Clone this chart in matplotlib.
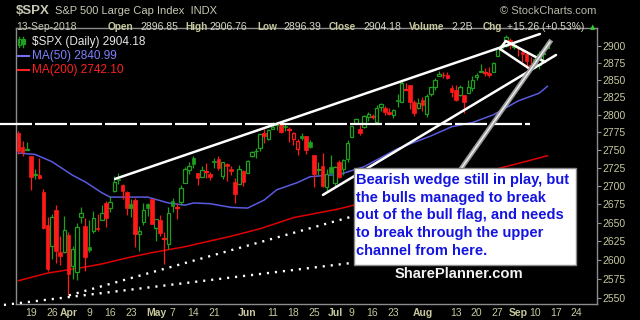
import numpy as np
import pandas as pd
import matplotlib
matplotlib.use("Agg")
import matplotlib.pyplot as plt
from matplotlib.patches import Rectangle
from matplotlib.lines import Line2D

plt.rcParams['font.family'] = ['Liberation Sans', 'DejaVu Sans']

# trading days, 14-Mar-2018 .. end of Sep (candles stop on 13-Sep)
holidays = pd.to_datetime(["2018-03-30", "2018-05-28", "2018-07-04", "2018-09-03"])
days = pd.bdate_range("2018-03-14", "2018-09-28")
days = days[~days.isin(holidays)]

prev_close = 2765.31
opens = [2774.06, 2754.27, 2750.57, 2741.38, 2715.05, 2714.99, 2691.36, 2646.71, 2619.35, 2667.57, 2611.30, 2610.79,
         2633.45, 2592.17, 2584.04, 2657.36, 2645.82, 2617.18, 2638.41, 2643.69, 2653.83, 2676.90,
         2670.10, 2692.74, 2710.11, 2701.16, 2692.56, 2675.40, 2680.80, 2634.92, 2651.65, 2675.47,
         2682.51, 2642.96, 2654.24, 2628.08, 2621.45, 2680.34, 2670.26, 2678.12, 2705.02, 2722.70,
         2738.47, 2718.59, 2712.62, 2719.71, 2717.35, 2735.39, 2738.34, 2713.98, 2730.94, 2723.60,
         2705.11, 2702.43, 2720.98, 2718.70, 2741.67, 2748.46, 2753.25, 2774.84, 2765.84,
         2780.18, 2785.60, 2787.94, 2783.21, 2777.78, 2765.79, 2752.01, 2769.73, 2769.28, 2760.79,
         2742.94, 2722.12, 2728.45, 2698.69, 2727.13, 2704.95, 2733.27, 2724.19, 2737.68,
         2768.51, 2788.56, 2779.82, 2783.14, 2796.93, 2797.36, 2789.34, 2811.35, 2809.37, 2804.55,
         2799.17, 2820.68, 2817.73, 2835.49, 2842.35, 2819.00, 2809.73, 2821.17, 2800.48, 2829.62,
         2840.29, 2855.92, 2856.79, 2857.19, 2838.90, 2835.46, 2827.88, 2827.95, 2831.44, 2838.32,
         2853.93, 2861.51, 2860.99, 2860.29, 2862.35, 2884.69, 2901.45, 2900.62, 2908.94, 2898.37,
         2896.96, 2891.59, 2888.64, 2868.26, 2881.39, 2871.57, 2888.29, 2896.85]
highs = [2777.11, 2763.03, 2761.85, 2741.38, 2724.22, 2739.14, 2695.68, 2657.67, 2661.36, 2674.78, 2632.65, 2659.07,
         2638.30, 2619.14, 2649.86, 2672.08, 2656.88, 2653.55, 2665.45, 2661.43, 2674.72, 2680.26,
         2686.49, 2713.34, 2717.49, 2702.84, 2693.94, 2682.86, 2683.55, 2645.30, 2676.48, 2677.35,
         2682.87, 2655.27, 2660.87, 2637.14, 2670.93, 2683.35, 2676.34, 2701.27, 2726.11, 2732.86,
         2742.10, 2718.59, 2727.76, 2731.96, 2719.50, 2739.19, 2742.24, 2733.33, 2731.97, 2727.36,
         2710.67, 2729.34, 2722.50, 2736.93, 2749.16, 2752.61, 2772.39, 2779.90, 2779.39,
         2790.21, 2789.80, 2791.47, 2789.06, 2782.81, 2774.99, 2765.05, 2774.86, 2769.28, 2764.17,
         2742.94, 2732.91, 2746.09, 2724.34, 2743.26, 2727.26, 2736.58, 2737.83, 2764.41,
         2784.65, 2795.58, 2785.91, 2799.22, 2804.53, 2801.19, 2814.19, 2816.76, 2812.05, 2809.70,
         2808.61, 2829.99, 2848.03, 2845.57, 2843.17, 2821.74, 2824.46, 2825.83, 2829.91, 2840.38,
         2853.29, 2863.43, 2862.44, 2862.48, 2842.20, 2843.40, 2843.11, 2827.95, 2850.49, 2855.63,
         2859.76, 2873.23, 2867.54, 2868.78, 2876.16, 2898.25, 2903.77, 2916.50, 2912.46, 2906.32,
         2900.18, 2894.21, 2892.05, 2883.81, 2886.93, 2892.52, 2894.65, 2906.76]
lows = [2744.38, 2741.47, 2749.97, 2694.59, 2710.05, 2709.79, 2641.59, 2585.89, 2601.81, 2596.12, 2593.06, 2609.72,
        2553.80, 2575.49, 2573.61, 2649.58, 2586.27, 2610.79, 2635.78, 2639.25, 2653.83, 2645.05,
        2665.16, 2692.05, 2703.63, 2681.90, 2660.61, 2657.99, 2617.32, 2612.67, 2647.16, 2659.01,
        2648.04, 2625.41, 2631.70, 2594.62, 2615.32, 2664.70, 2655.20, 2674.14, 2704.54, 2717.45,
        2725.47, 2701.91, 2712.17, 2711.36, 2709.18, 2725.70, 2721.88, 2709.54, 2707.38, 2714.99,
        2676.81, 2702.43, 2700.68, 2718.70, 2740.54, 2739.51, 2748.46, 2760.16, 2763.59,
        2780.17, 2778.78, 2774.65, 2776.52, 2761.73, 2757.12, 2743.19, 2763.91, 2744.39, 2752.68,
        2698.67, 2715.60, 2699.38, 2691.99, 2718.03, 2698.95, 2711.16, 2716.02, 2733.52,
        2768.51, 2786.24, 2770.77, 2781.53, 2791.69, 2793.39, 2789.24, 2805.89, 2799.77, 2800.01,
        2795.14, 2811.12, 2817.73, 2835.26, 2808.34, 2798.11, 2808.06, 2805.85, 2796.34, 2827.37,
        2835.98, 2855.92, 2853.09, 2851.98, 2825.81, 2819.88, 2826.58, 2802.49, 2831.44, 2833.73,
        2850.62, 2861.32, 2856.05, 2854.03, 2862.35, 2884.69, 2893.50, 2898.40, 2895.22, 2895.77,
        2885.13, 2876.92, 2867.29, 2864.12, 2875.94, 2866.78, 2879.20, 2896.39]
closes = [2749.48, 2747.33, 2752.01, 2712.92, 2716.94, 2711.93, 2643.69, 2588.26, 2658.55, 2612.62, 2605.00, 2640.87,
          2581.88, 2614.45, 2644.69, 2662.84, 2604.47, 2613.16, 2656.87, 2642.19, 2663.99, 2656.30,
          2677.84, 2706.39, 2708.64, 2693.13, 2670.14, 2670.29, 2634.56, 2639.40, 2666.94, 2669.91,
          2648.05, 2654.80, 2635.67, 2629.73, 2663.42, 2672.63, 2671.92, 2697.79, 2723.07, 2727.72,
          2730.13, 2711.45, 2722.46, 2720.13, 2712.97, 2733.01, 2724.44, 2733.29, 2727.76, 2721.33,
          2689.86, 2724.01, 2705.27, 2734.62, 2746.87, 2748.80, 2772.35, 2770.37, 2779.03,
          2782.00, 2786.85, 2775.63, 2782.49, 2779.66, 2773.75, 2762.59, 2767.32, 2749.76, 2754.88,
          2717.07, 2723.06, 2699.63, 2716.31, 2718.37, 2726.71, 2713.22, 2736.61, 2759.82,
          2784.17, 2793.84, 2774.02, 2798.29, 2801.31, 2798.43, 2809.55, 2815.62, 2804.49, 2801.83,
          2806.98, 2820.40, 2846.07, 2837.44, 2818.82, 2802.60, 2816.29, 2813.36, 2827.22, 2840.35,
          2850.40, 2858.45, 2857.70, 2853.58, 2833.28, 2821.93, 2839.96, 2818.37, 2840.69, 2850.13,
          2857.05, 2862.96, 2861.82, 2856.98, 2874.69, 2896.74, 2897.52, 2914.04, 2901.13, 2901.52,
          2896.72, 2888.60, 2878.05, 2871.68, 2877.13, 2887.89, 2888.92, 2904.18]

# moving averages: (trading day number, value)
ma50_day = [0, 4, 8, 13, 16, 20, 22, 25, 31, 36, 40, 42, 46, 51, 55, 59, 62, 67, 70, 74, 77, 83, 91, 99, 104, 109, 114, 120, 125, 127]
ma50_val = [2746, 2744, 2734, 2715, 2706, 2691, 2685, 2685, 2685, 2677, 2674, 2677, 2676, 2671, 2670, 2681, 2695, 2705,
            2713, 2715, 2716, 2727, 2752, 2770, 2783, 2789, 2800, 2820, 2831, 2840.99]
ma200_day = [0, 7, 15, 20, 26, 32, 40, 51, 58, 66, 77, 117, 127]
ma200_val = [2573, 2583, 2590, 2595, 2603, 2610, 2618, 2632, 2642, 2657, 2669, 2727, 2742.10]

tick_dates = ["2018-03-19", "2018-03-26", "2018-04-02", "2018-04-09", "2018-04-16", "2018-04-23",
              "2018-05-01", "2018-05-07", "2018-05-14", "2018-05-21", "2018-06-01", "2018-06-11",
              "2018-06-18", "2018-06-25", "2018-07-02", "2018-07-09", "2018-07-16", "2018-07-23",
              "2018-08-01", "2018-08-13", "2018-08-20", "2018-08-27", "2018-09-04", "2018-09-10",
              "2018-09-17", "2018-09-24"]
tick_text = ["19", "26", "Apr", "9", "16", "23", "May", "7", "14", "21", "Jun", "11", "18", "25",
             "Jul", "9", "16", "23", "Aug", "13", "20", "27", "Sep", "10", "17", "24"]
months = ["Apr", "May", "Jun", "Jul", "Aug", "Sep"]
y_ticks = list(range(2550, 2901, 25))

# hand drawn lines on the chart, (trading day number, price)
upper_channel = [(23.2, 2710.0), (125.2, 2917.8)]
lower_channel = [(73.1, 2688.0), (129.05, 2886.7)]
resistance = [(-4.44, 2787.5), (122.8, 2787.5)]
flag_top = [(117.0, 2907.4), (126.4, 2876.5)]
flag_bottom = [(115.6, 2895.6), (122.8, 2866.2)]
flag_side = [(115.6, 2895.6), (117.0, 2907.4)]
steep_trend = [(91.6, 2606.1), (127.6, 2905.9)]
dotted_a = [(-3.5, 2541.4), (82.0, 2597.7)]
dotted_b = [(12.1, 2553.8), (82.0, 2661.5)]

note_lines = ["Bearish wedge still in play, but",
              "the bulls managed to break",
              "out of the bull flag, and needs",
              "to break through the upper",
              "channel from here."]

GREEN = '#1ea01e'
RED = '#ff1a1a'
KHAKI = '#c8c8a0'

W, H = 640, 320
fig = plt.figure(figsize=(6.4, 3.2), dpi=100, facecolor='black')
ax = fig.add_axes([16 / W, 1 - 304 / H, (597 - 16) / W, (304 - 28) / H])
ax.set_facecolor('black')


def fx(px):
    return px / W


def fy(py):
    return 1 - py / H


x = np.arange(len(closes))
o = np.array(opens)
h = np.array(highs)
l = np.array(lows)
c = np.array(closes)
pc = np.r_[prev_close, c[:-1]]
col = np.where(c >= pc, GREEN, RED)
top = np.maximum(o, c)
bot = np.minimum(o, c)
body = np.maximum(top - bot, 0.9)

ax.plot(ma50_day, ma50_val, color='#5a5ae0', lw=1.1, zorder=2)
ax.plot(ma200_day, ma200_val, color='#e00000', lw=1.1, zorder=2)

ax.vlines(x, top, h, colors=col, lw=0.9, zorder=3)
ax.vlines(x, l, bot, colors=col, lw=0.9, zorder=3)
hol = c > o
ax.bar(x[hol], body[hol], bottom=bot[hol], width=0.85, facecolor='black',
       edgecolor=col[hol], linewidth=0.9, zorder=4)
ax.bar(x[~hol], body[~hol], bottom=bot[~hol], width=0.85, facecolor=col[~hol],
       edgecolor=col[~hol], linewidth=0.5, zorder=4)


def seg(pts, **kw):
    xs, ys = zip(*pts)
    ax.plot(xs, ys, **kw)


for ln in [upper_channel, lower_channel, flag_top, flag_bottom, flag_side]:
    seg(ln, color='white', lw=1.8, zorder=6, solid_capstyle='round')
seg(resistance, color='white', lw=1.6, dashes=(14.4, 1.35), zorder=6, clip_on=False)
seg(steep_trend, color='#9a9a9a', lw=3.4, zorder=6)
seg(steep_trend, color='#f0f0f0', lw=1.0, zorder=6)
for ln in [dotted_a, dotted_b]:
    seg(ln, color='white', lw=1.7, dashes=(0.9, 2.5), zorder=6, clip_on=False)

ax.set_xlim(-0.6, 138.9)
ax.set_yscale('log')
ax.set_ylim(2542.6, 2926.7)
ax.yaxis.tick_right()
ax.set_yticks(y_ticks)
ax.set_yticklabels([str(v) for v in y_ticks])
ax.yaxis.set_minor_locator(plt.NullLocator())
tick_pos = [days.get_loc(pd.Timestamp(d)) for d in tick_dates]
ax.set_xticks(tick_pos)
ax.set_xticklabels(tick_text)
for t in ax.get_xticklabels():
    if t.get_text() in months:
        t.set_fontweight('bold')
        t.set_fontsize(8)
ax.tick_params(axis='y', colors='#909090', labelcolor=KHAKI, labelsize=7.5, length=3, pad=1)
ax.tick_params(axis='x', colors='#909090', labelcolor=KHAKI, labelsize=7.5, length=0, pad=3)
for s in ax.spines.values():
    s.set_color('#8c8c8c')
    s.set_linewidth(1)

# note box
fig.add_artist(Rectangle((fx(354), fy(265)), (576 - 354) / W, (265 - 168) / H, transform=fig.transFigure,
                         facecolor='white', edgecolor='#8a8a8a', lw=1.0, zorder=20))
for i, t in enumerate(note_lines):
    fig.text(fx(356), fy(180 + i * 17.7), t, color='#1414e0', fontsize=10.5, fontweight='bold',
             va='center', ha='left', zorder=21)
fig.text(fx(459), fy(274), "SharePlanner.com", color='#f2f2f2', fontsize=10.6, fontweight='bold',
         ha='center', va='center', zorder=21)

# header
fig.text(fx(16), fy(11), "$SPX", color='#c8c8b4', fontsize=9.5, fontweight='bold', va='center')
fig.text(fx(55), fy(11), "S&P 500 Large Cap Index  INDX", color='#c8c8b4', fontsize=8, va='center')
fig.text(fx(596), fy(11), "\u00a9 StockCharts.com", color='#b8b8a8', fontsize=8, va='center', ha='right')
fig.text(fx(16), fy(27), "13-Sep-2018", color='#c8c8b4', fontsize=7.5, va='center')
hdr = [("Open", 108, True), ("2896.85", 140, False), ("High", 185, True), ("2906.76", 209, False),
       ("Low", 257, True), ("2896.39", 283, False), ("Close", 329, True), ("2904.18", 363, False),
       ("Volume", 409, True), ("2.2B", 451, False), ("Chg", 483, True), ("+15.26 (+0.53%)", 507, False)]
for t, px, b in hdr:
    fig.text(fx(px), fy(27), t, color=KHAKI if b else '#d6d6c6', fontsize=7.2 if b else 7.5,
             fontweight='bold' if b else 'normal', va='center')
fig.text(fx(593), fy(27), "\u25b2", color='#30d030', fontsize=5, va='center', ha='center', family='DejaVu Sans')

# legend inside the chart
fig.add_artist(Line2D([fx(19), fx(19)], [fy(37), fy(47)], color=GREEN, lw=1))
fig.add_artist(Rectangle((fx(17.5), fy(45)), 3 / W, 6 / H, transform=fig.transFigure,
                         facecolor='black', edgecolor=GREEN, lw=0.8))
fig.add_artist(Line2D([fx(23), fx(23)], [fy(37), fy(47)], color=GREEN, lw=1))
fig.add_artist(Rectangle((fx(21.5), fy(44)), 3 / W, 5 / H, transform=fig.transFigure,
                         facecolor=GREEN, edgecolor=GREEN, lw=0.8))
fig.text(fx(32), fy(42), "$SPX (Daily) 2904.18", color='#e6e6e6', fontsize=8.5, va='center')
fig.add_artist(Line2D([fx(18), fx(29)], [fy(56), fy(56)], color='#7070f0', lw=1.5))
fig.text(fx(32), fy(56), "MA(50) 2840.99", color='#8080ff', fontsize=8.5, va='center')
fig.add_artist(Line2D([fx(18), fx(29)], [fy(70), fy(70)], color='#ff2020', lw=1.5))
fig.text(fx(32), fy(70), "MA(200) 2742.10", color='#ff2020', fontsize=8.5, va='center')

fig.savefig("out.png", dpi=100, facecolor='black')
